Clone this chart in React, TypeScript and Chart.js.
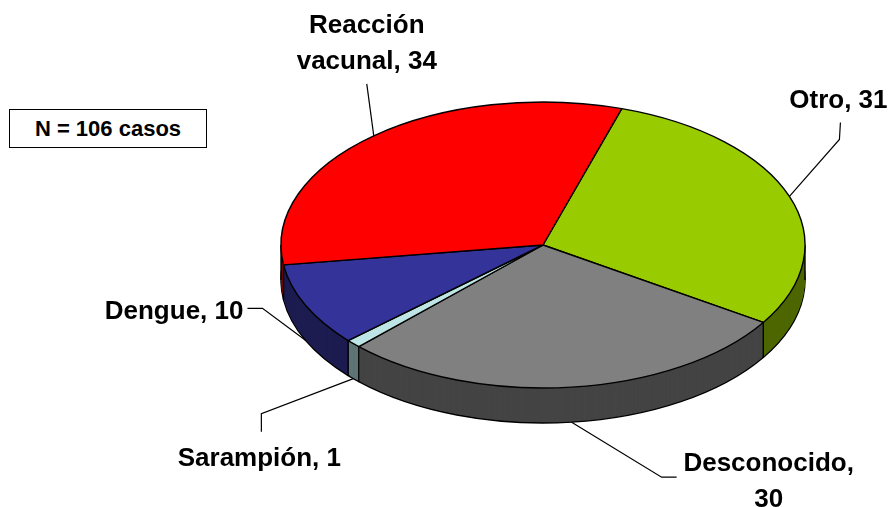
import React, { useEffect, useRef } from 'react';
import { Chart, registerables } from 'chart.js';

Chart.register(...registerables);

// ---- data ----
const categories = ['Otro', 'Desconocido', 'Sarampión', 'Dengue', 'Reacción vacunal'];
const values = [31, 30, 1, 10, 34];
const topColors = ['#99CC00', '#808080', '#BDE5E5', '#333399', '#FF0000'];
const sideColors = ['#4D6600', '#444444', '#5F7474', '#1C1C50', '#800000'];
// how each data label wraps onto two lines
const labelWraps = ['none', 'comma', 'none', 'none', 'space'];

// ---- 3D ellipse geometry (screen) ----
const GEOM = { cx: 543, cy: 245, rx: 262, ry: 143, depth: 35, rotation: 17.5 };

// leader points and text position, relative to the slice's anchor point
const LABEL_LAYOUT: { pts: number[][]; text: number[]; align: CanvasTextAlign }[] = [
  { pts: [[50, -57], [51, -74]], text: [-2, -14], align: 'center' },
  { pts: [[90, 55], [105, 55]], text: [92, -6], align: 'center' },
  { pts: [[-92, 35], [-92, 53]], text: [-2, 34], align: 'center' },
  { pts: [[-43, -32], [-58, -32]], text: [-4, 11], align: 'right' },
  { pts: [[-7, -52]], text: [0, -51], align: 'center' },
];
const LABEL_FONT = 'bold 26px "Liberation Sans", Arial, sans-serif';
const LINE_H = 36;
const EDGE_W = 1.4;

function labelLines(i: number): string[] {
  const cat = categories[i];
  const v = values[i];
  const w = labelWraps[i];
  if (w === 'comma') return [cat + ',', String(v)];
  if (w === 'space') {
    const k = cat.indexOf(' ');
    return [cat.slice(0, k), cat.slice(k + 1) + ', ' + v];
  }
  return [cat + ', ' + v];
}

function setXf(ctx: CanvasRenderingContext2D, el: any, dy: number, dpr: number) {
  const R = el.outerRadius;
  const sx = GEOM.rx / R;
  const sy = GEOM.ry / R;
  ctx.setTransform(
    dpr * sx, 0, 0, dpr * sy,
    dpr * (GEOM.cx - el.x * sx),
    dpr * (GEOM.cy + dy - el.y * sy)
  );
}

function drawArcWith(el: any, ctx: CanvasRenderingContext2D, opts: any) {
  const saved = el.options;
  el.options = Object.assign({}, saved, opts);
  el.draw(ctx);
  el.options = saved;
}

function screenPt(theta: number, dy: number) {
  return [GEOM.cx + GEOM.rx * Math.cos(theta), GEOM.cy + GEOM.ry * Math.sin(theta) + dy];
}

const pie3d = {
  id: 'pie3d',
  beforeDatasetsDraw(chart: any) {
    const ctx: CanvasRenderingContext2D = chart.ctx;
    const dpr = chart.currentDevicePixelRatio || 1;
    const els = chart.getDatasetMeta(0).data;
    const origStroke = ctx.stroke;
    (chart as any)._origStroke = origStroke;
    ctx.stroke = function (this: CanvasRenderingContext2D, ...args: any[]) {
      this.save();
      this.setTransform(dpr, 0, 0, dpr, 0, 0);
      (origStroke as any).apply(this, args);
      this.restore();
    } as any;
    ctx.save();
    for (let d = GEOM.depth; d >= 1; d--) {
      els.forEach((el: any, i: number) => {
        setXf(ctx, el, d, dpr);
        if (d === GEOM.depth) {
          drawArcWith(el, ctx, { backgroundColor: sideColors[i], borderColor: '#000', borderWidth: EDGE_W });
        } else {
          drawArcWith(el, ctx, { backgroundColor: sideColors[i], borderWidth: 0 });
        }
      });
    }
    ctx.restore();
    // vertical edges on the side
    ctx.save();
    ctx.setTransform(dpr, 0, 0, dpr, 0, 0);
    ctx.strokeStyle = '#000';
    ctx.lineWidth = EDGE_W;
    const edges: number[] = [0, Math.PI];
    els.forEach((el: any) => {
      const a = el.startAngle;
      if (Math.sin(a) > 0) edges.push(a);
    });
    edges.forEach((a) => {
      const p = screenPt(a, 0);
      const q = screenPt(a, GEOM.depth);
      ctx.beginPath();
      ctx.moveTo(p[0], p[1]);
      ctx.lineTo(q[0], q[1]);
      origStroke.call(ctx);
    });
    ctx.restore();
    // top face transform for default dataset drawing
    ctx.save();
    setXf(ctx, els[0], 0, dpr);
  },
  afterDatasetsDraw(chart: any) {
    const ctx: CanvasRenderingContext2D = chart.ctx;
    const dpr = chart.currentDevicePixelRatio || 1;
    ctx.restore();
    ctx.stroke = (chart as any)._origStroke;
    const els = chart.getDatasetMeta(0).data;
    ctx.save();
    ctx.setTransform(dpr, 0, 0, dpr, 0, 0);
    ctx.strokeStyle = '#000';
    ctx.lineWidth = 1.2;
    ctx.fillStyle = '#000';
    ctx.font = LABEL_FONT;
    ctx.textBaseline = 'alphabetic';
    els.forEach((el: any, i: number) => {
      const mid = (el.startAngle + el.endAngle) / 2;
      const front = Math.sin(mid) > 0;
      const a = screenPt(mid, front ? GEOM.depth : 0);
      const lay = LABEL_LAYOUT[i];
      ctx.beginPath();
      ctx.moveTo(a[0], a[1]);
      let last = a;
      lay.pts.forEach((p) => {
        last = [a[0] + p[0], a[1] + p[1]];
        ctx.lineTo(last[0], last[1]);
      });
      ctx.stroke();
      ctx.textAlign = lay.align;
      const lines = labelLines(i);
      lines.forEach((t, k) => {
        ctx.fillText(t, last[0] + lay.text[0], last[1] + lay.text[1] + k * LINE_H);
      });
    });
    ctx.restore();
  },
};

export default function App() {
  const ref = useRef<HTMLCanvasElement>(null);
  const total = values.reduce((s, v) => s + v, 0);
  useEffect(() => {
    document.body.style.margin = '0';
    const chart = new Chart(ref.current as HTMLCanvasElement, {
      type: 'pie',
      data: {
        labels: categories,
        datasets: [
          {
            data: values,
            backgroundColor: topColors,
            borderColor: '#000000',
            borderWidth: EDGE_W,
            clip: false as any,
          },
        ],
      },
      options: {
        animation: false,
        responsive: false,
        rotation: GEOM.rotation,
        layout: { padding: { left: 400, right: 204, top: 102, bottom: 119 } },
        plugins: { legend: { display: false }, tooltip: { enabled: false } },
        events: [],
      },
      plugins: [pie3d],
    });
    return () => chart.destroy();
  }, []);
  return (
    <div style={{ position: 'relative', width: 890, height: 507, background: '#fff' }}>
      <canvas ref={ref} width={890} height={507} style={{ display: 'block' }} />
      <div
        style={{
          position: 'absolute',
          left: 9,
          top: 109,
          width: 196,
          height: 37,
          border: '1px solid #000',
          background: '#fff',
          font: 'bold 22px "Liberation Sans", Arial, sans-serif',
          display: 'flex',
          alignItems: 'center',
          justifyContent: 'center',
          color: '#000',
        }}
      >
        {`N = ${total} casos`}
      </div>
    </div>
  );
}
